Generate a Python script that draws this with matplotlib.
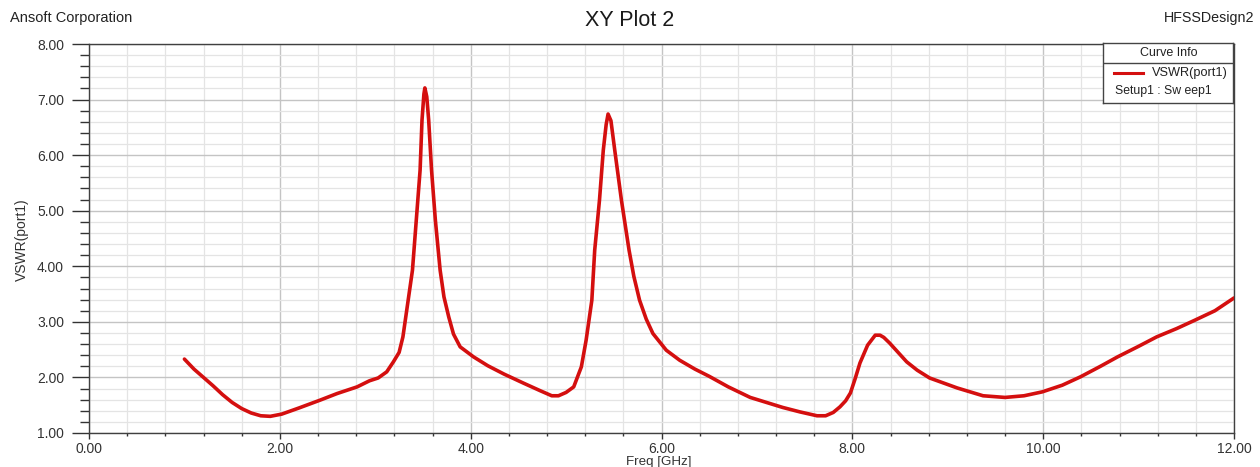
import matplotlib
matplotlib.use("Agg")
import matplotlib.pyplot as plt
from matplotlib.ticker import MultipleLocator, FormatStrFormatter

freq_ghz = [1.00, 1.10, 1.20, 1.30, 1.40, 1.50, 1.60, 1.70, 1.80, 1.90, 2.02, 2.20,
            2.42, 2.60, 2.81, 2.94, 3.03, 3.12, 3.19, 3.25, 3.29, 3.33, 3.39, 3.43,
            3.47, 3.49, 3.51, 3.52, 3.54, 3.56, 3.59, 3.63, 3.68, 3.72, 3.77, 3.82,
            3.89, 4.03, 4.18, 4.35, 4.55, 4.73, 4.85, 4.92, 5.00, 5.08, 5.16, 5.21,
            5.27, 5.30, 5.35, 5.39, 5.42, 5.44, 5.47, 5.51, 5.58, 5.66, 5.71, 5.77,
            5.84, 5.91, 6.05, 6.19, 6.35, 6.50, 6.70, 6.93, 7.10, 7.27, 7.45, 7.63,
            7.72, 7.80, 7.87, 7.93, 7.98, 8.03, 8.08, 8.16, 8.24, 8.29, 8.33, 8.39,
            8.48, 8.57, 8.68, 8.81, 9.10, 9.37, 9.60, 9.80, 9.99, 10.20, 10.39, 10.60,
            10.78, 11.00, 11.19, 11.40, 11.59, 11.80, 12.00]
vswr = [2.33, 2.15, 2.00, 1.85, 1.69, 1.55, 1.44, 1.36, 1.31, 1.30, 1.34, 1.45,
        1.59, 1.71, 1.83, 1.94, 1.99, 2.10, 2.28, 2.45, 2.73, 3.21, 3.93, 4.83,
        5.73, 6.63, 7.10, 7.21, 7.05, 6.63, 5.73, 4.83, 3.93, 3.45, 3.09, 2.78,
        2.55, 2.37, 2.21, 2.06, 1.90, 1.76, 1.67, 1.67, 1.73, 1.83, 2.19, 2.67,
        3.39, 4.29, 5.19, 6.09, 6.55, 6.74, 6.62, 6.09, 5.19, 4.29, 3.82, 3.39,
        3.05, 2.79, 2.49, 2.31, 2.15, 2.02, 1.83, 1.64, 1.55, 1.46, 1.38, 1.31,
        1.31, 1.37, 1.47, 1.58, 1.72, 1.98, 2.26, 2.58, 2.76, 2.76, 2.72, 2.62,
        2.45, 2.28, 2.13, 1.99, 1.81, 1.67, 1.64, 1.67, 1.74, 1.86, 2.01, 2.20,
        2.37, 2.56, 2.73, 2.88, 3.03, 3.20, 3.43]

title = "XY Plot 2"
left_note = "Ansoft Corporation"
right_note = "HFSSDesign2"
xlabel = "Freq [GHz]"
ylabel = "VSWR(port1)"
legend_header = "Curve Info"
legend_entry = "VSWR(port1)"
legend_sub = "Setup1 : Sw eep1"

plt.rcParams['font.family'] = ['Liberation Sans', 'DejaVu Sans']
W, H = 1260, 467
fig = plt.figure(figsize=(W / 100, H / 100), dpi=100)
ax = fig.add_axes([89 / W, 1 - 433 / H, (1234 - 89) / W, (433 - 44) / H])

line_color = '#d40f0f'
ax.plot(freq_ghz, vswr, color=line_color, lw=2.6, solid_joinstyle='round',
        solid_capstyle='round', zorder=3)

ax.set_xlim(0, 12)
ax.set_ylim(1, 8)
ax.xaxis.set_major_locator(MultipleLocator(2))
ax.xaxis.set_minor_locator(MultipleLocator(0.4))
ax.yaxis.set_major_locator(MultipleLocator(1))
ax.yaxis.set_minor_locator(MultipleLocator(0.2))
ax.xaxis.set_major_formatter(FormatStrFormatter('%.2f'))
ax.yaxis.set_major_formatter(FormatStrFormatter('%.2f'))

ax.grid(which='major', color='#c4c4c4', lw=1.0)
ax.grid(which='minor', color='#e4e4e4', lw=0.9)
ax.set_axisbelow(True)

ax.tick_params(axis='y', which='major', length=12, width=1, color='#333333',
               pad=6, labelsize=10, labelcolor='#333333', direction='out')
ax.tick_params(axis='y', which='minor', length=6.5, width=1, color='#333333', direction='out')
ax.tick_params(axis='x', which='major', length=4.5, width=1, color='#333333',
               pad=2.0, labelsize=10, labelcolor='#333333', direction='out')
ax.tick_params(axis='x', which='minor', length=2.5, width=1, color='#333333', direction='out')
for s in ax.spines.values():
    s.set_color('#404040')
    s.set_linewidth(1.0)

fig.text(630 / W, 1 - 20 / H, title, ha='center', va='center', fontsize=15.5, color='#1a1a1a')
fig.text(10 / W, 1 - 18 / H, left_note, ha='left', va='center', fontsize=10.5, color='#222222')
fig.text(1254 / W, 1 - 18 / H, right_note, ha='right', va='center', fontsize=10.3, color='#222222')
fig.text(22 / W, 1 - 240 / H, ylabel, ha='center', va='center', rotation=90, fontsize=10, color='#333333')
fig.text(659 / W, 1 - 462 / H, xlabel, ha='center', va='center', fontsize=9.6, color='#333333')

# Curve info box
lx0, ly0, lw_, lh_ = 1103, 43, 130, 60
lax = fig.add_axes([lx0 / W, 1 - (ly0 + lh_) / H, lw_ / W, lh_ / H])
lax.set_xlim(0, lw_)
lax.set_ylim(lh_, 0)
lax.set_xticks([])
lax.set_yticks([])
lax.set_facecolor('white')
for s in lax.spines.values():
    s.set_color('#444444')
    s.set_linewidth(1.0)
lax.axhline(20, color='#444444', lw=1.0)
lax.text(66, 10, legend_header, ha='center', va='center', fontsize=9, color='#222222')
lax.plot([11, 40], [30, 30], color=line_color, lw=2.2)
lax.text(49, 30, legend_entry, ha='left', va='center', fontsize=9.2, color='#222222')
lax.text(12, 48, legend_sub, ha='left', va='center', fontsize=8.8, color='#222222')

fig.savefig('out.png', dpi=100)
